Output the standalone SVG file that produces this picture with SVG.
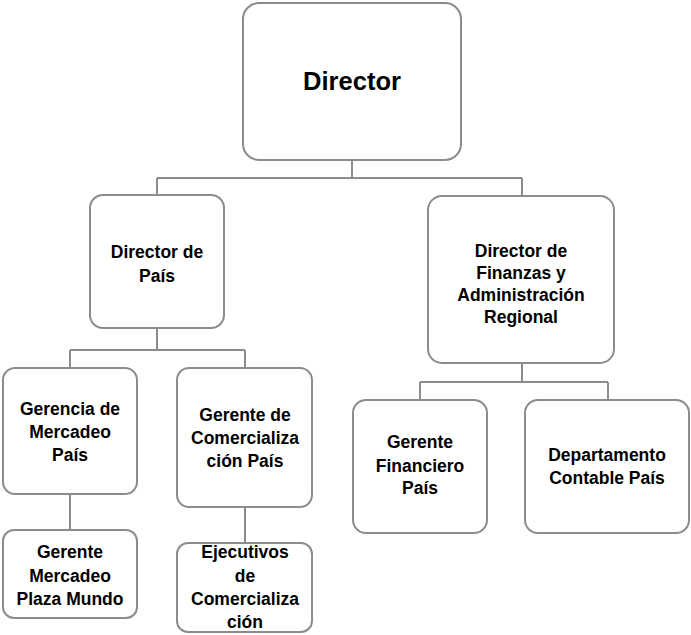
<svg xmlns="http://www.w3.org/2000/svg" width="691" height="635" viewBox="0 0 691 635">
<style>
.box{fill:#fff;stroke:#8c8c8c;stroke-width:2}
.ln{fill:none;stroke:#8c8c8c;stroke-width:2}
text{font-family:"Liberation Sans",Arial,sans-serif;font-weight:bold;font-size:17.5px;fill:#000;text-anchor:middle}
</style>
<rect width="691" height="635" fill="#fff"/>
<g id="connectors">
<path class="ln" d="M352 160V178M157 178H522M157 178V195M522 178V196"/>
<path class="ln" d="M157 328V350M70 350H245M70 350V368M245 350V368"/>
<path class="ln" d="M70 494V530M245 507V543"/>
<path class="ln" d="M522 363V382M420 382H608M420 382V400M608 382V400"/>
</g>
<g id="director"><rect class="box" x="243" y="3" width="218" height="157" rx="16"/><text x="352" y="90" style="font-size:25.5px">Director</text></g>
<g id="director-pais"><rect class="box" x="90" y="195" width="134" height="133" rx="13"/><text x="157" y="258">Director de</text><text x="157" y="282">País</text></g>
<g id="director-finanzas"><rect class="box" x="428" y="196" width="186" height="167" rx="14"/><text x="521" y="257">Director de</text><text x="521" y="279">Finanzas y</text><text x="521" y="301">Administración</text><text x="521" y="323">Regional</text></g>
<g id="gerencia-mercadeo"><rect class="box" x="3" y="368" width="134" height="126" rx="12"/><text x="70" y="415">Gerencia de</text><text x="70" y="438">Mercadeo</text><text x="70" y="461">País</text></g>
<g id="gerente-comercializacion"><rect class="box" x="177" y="368" width="135" height="139" rx="12"/><text x="245" y="421">Gerente de</text><text x="245" y="444">Comercializa</text><text x="245" y="467">ción País</text></g>
<g id="gerente-mercadeo-plaza"><rect class="box" x="3" y="530" width="134" height="88" rx="11"/><text x="70" y="558">Gerente</text><text x="70" y="582">Mercadeo</text><text x="70" y="605">Plaza Mundo</text></g>
<g id="ejecutivos"><rect class="box" x="177" y="543" width="135" height="89" rx="11"/><text x="245" y="558">Ejecutivos</text><text x="245" y="582">de</text><text x="245" y="605">Comercializa</text><text x="245" y="628">ción</text></g>
<g id="gerente-financiero"><rect class="box" x="353" y="400" width="134" height="133" rx="13"/><text x="420" y="448">Gerente</text><text x="420" y="472">Financiero</text><text x="420" y="494">País</text></g>
<g id="departamento-contable"><rect class="box" x="525" y="400" width="164" height="133" rx="13"/><text x="607" y="461">Departamento</text><text x="607" y="484">Contable País</text></g>
</svg>
